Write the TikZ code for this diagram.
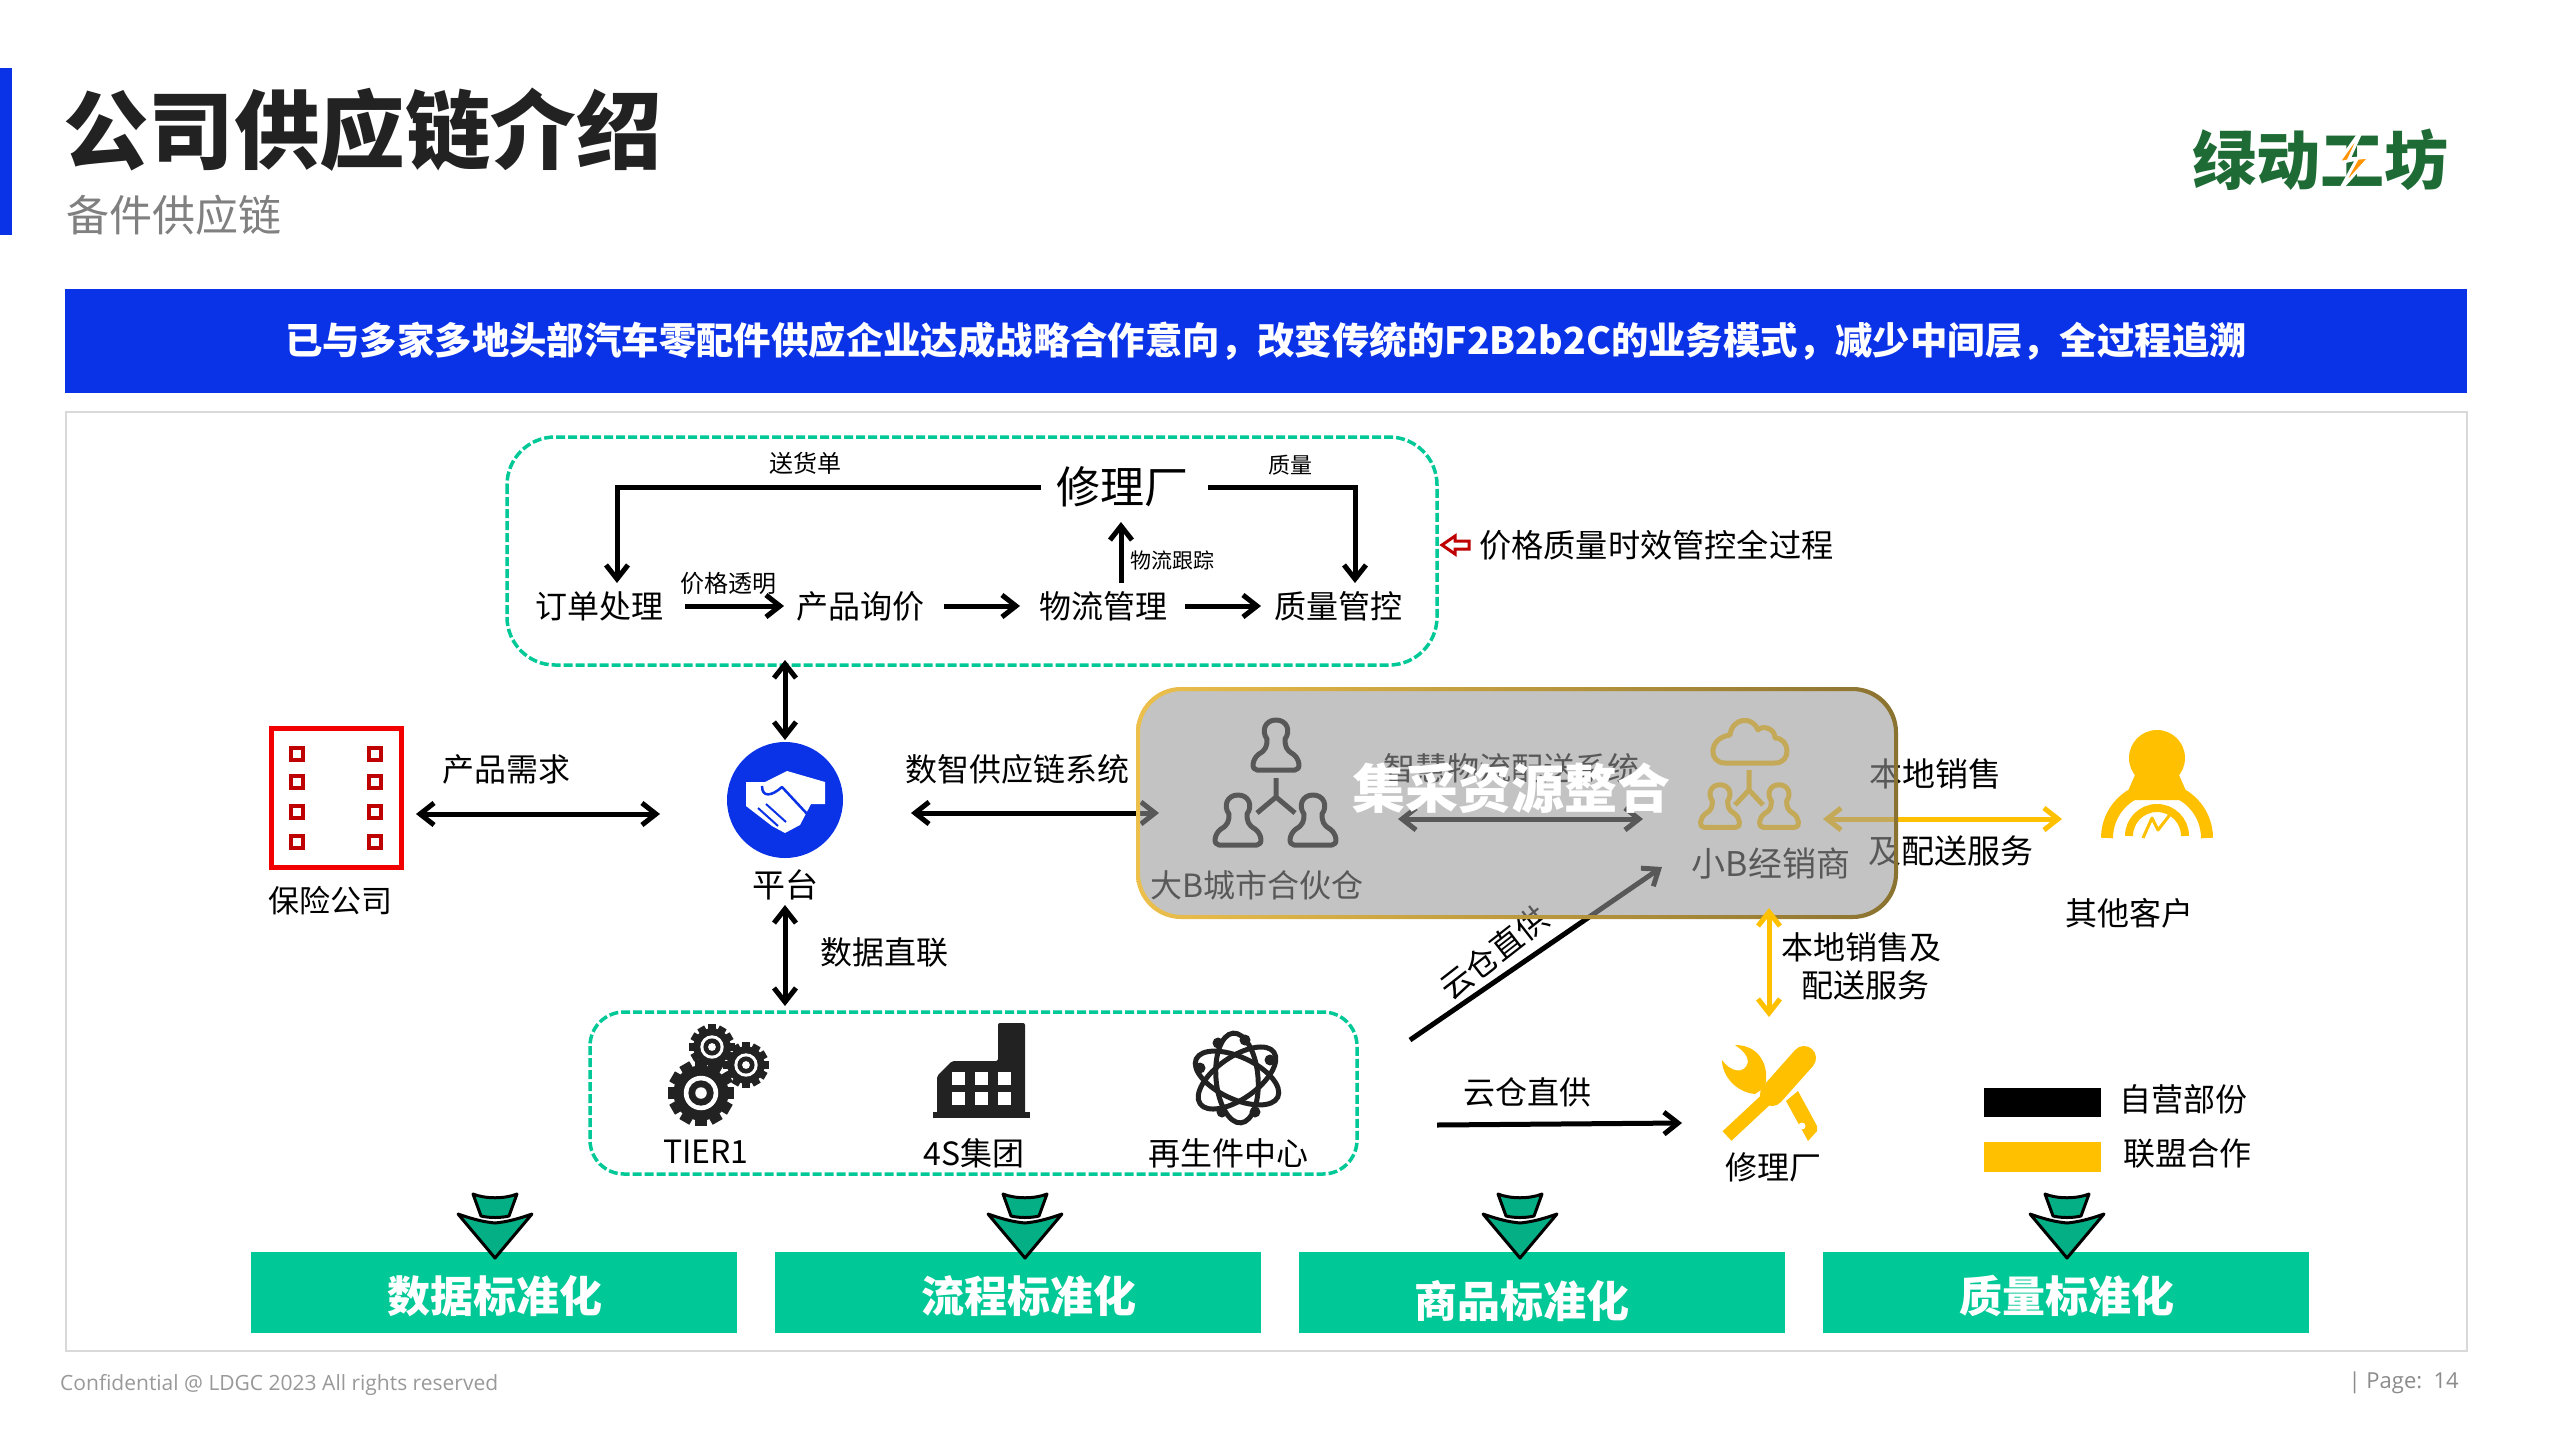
\documentclass[tikz,border=0pt]{standalone}
\usepackage{fontspec}
\setmainfont{Noto Sans CJK SC}
\newfontfamily\latinf{Open Sans}
\usetikzlibrary{arrows.meta}
\definecolor{brandblue}{HTML}{0A32E6}
\definecolor{teal}{HTML}{00C896}
\definecolor{gold}{HTML}{FFC000}
\definecolor{ink}{HTML}{222222}
\definecolor{logogreen}{HTML}{1E6B35}
\definecolor{ringgold}{HTML}{EDC04C}
\definecolor{ringdark}{HTML}{8A7230}
\tikzset{
  lab/.style={font=\fontsize{#1}{#1}\selectfont,inner sep=0pt,text=black},
  bl/.style={font=\bfseries\fontsize{#1}{#1}\selectfont,inner sep=0pt,text=white},
  dashbox/.style={draw=teal,line width=3.5pt,dash pattern=on 9pt off 3pt},
  oneway/.style={line width=5pt,-{Straight Barb[length=14pt,width=22pt,line width=5pt]}},
  twoway/.style={line width=5pt,{Straight Barb[length=14pt,width=22pt,line width=5pt]}-{Straight Barb[length=14pt,width=22pt,line width=5pt]}},
  greenbox/.style={fill=teal,draw=none,minimum width=486pt,minimum height=81pt,inner sep=0pt},
  pics/personicon/.style={code={
    \draw[pic actions,line width=5pt,line join=round]
      (-19,25) -- (19,25) .. controls (25,25) and (24,14) .. (17,9)
      .. controls (10,5) and (9,1) .. (9,-6)
      .. controls (15,-14) and (11,-25) .. (0,-25)
      .. controls (-11,-25) and (-15,-14) .. (-9,-6)
      .. controls (-9,1) and (-10,5) .. (-17,9)
      .. controls (-24,14) and (-25,25) .. (-19,25) -- cycle;
  }},
  pics/gearicon/.style={code={
    \foreach \a in {0,30,...,330}{\fill[ink,rotate=\a] (-5,-29) rectangle (5,-21);}
    \fill[ink] (0,0) circle (24);
    \fill[white] (0,0) circle (15);
    \fill[ink] (0,0) circle (11);
    \fill[white] (0,0) circle (5);
  }},
  pics/downmark/.style={code={
    \draw[fill=teal!85!ink,line width=3pt,line join=round,draw=black]
      (-22,-32) -- (-14,-10) .. controls (-6,-8) and (6,-8) .. (14,-10) -- (22,-32)
      .. controls (10,-27) and (-10,-27) .. (-22,-32) -- cycle;
    \draw[fill=teal!85!ink,line width=3pt,line join=round,draw=black]
      (-37,-12) .. controls (-20,-6) and (-10,-4) .. (0,-3) .. controls (10,-4) and (20,-6) .. (37,-12)
      -- (0,32) -- cycle;
  }}
}
\begin{document}
\begin{tikzpicture}[x=1pt,y=-1pt]
\useasboundingbox (0,0) rectangle (2560,1440);
\fill[white] (0,0) rectangle (2560,1440);

% header
\fill[brandblue] (0,68) rectangle (12,235);
\node[bl=85.5,text=ink,anchor=west] (title) at (63,130) {公司供应链介绍};
\node[lab=43,text=gray,anchor=west] (subtitle) at (66,215) {备件供应链};

% logo
\node[font=\bfseries\fontsize{64}{64}\selectfont,text=logogreen,inner sep=0pt] (logo) at (2320,160) {绿动工坊};
\draw[draw=white,line width=3pt,fill=orange!85!yellow] (2363,128) -- (2338,163) -- (2357,159) -- (2340,190) -- (2370,157) -- (2349,159) -- cycle;

% banner and panel
\fill[brandblue] (65,289) rectangle (2467,393);
\node[bl=37.4] (banner) at (1266,341) {已与多家多地头部汽车零配件供应企业达成战略合作意向，改变传统的F2B2b2C的业务模式，减少中间层，全过程追溯};
\draw[draw=black!15,line width=1.5pt] (66,412) rectangle (2467,1351);

% top group
\draw[dashbox,rounded corners=48pt] (507,437) rectangle (1437,665);
\node[lab=44] (shop) at (1122,487) {修理厂};
\node[lab=32] (order) at (599,606) {订单处理};
\node[lab=32] (query) at (860,606) {产品询价};
\node[lab=32] (logi) at (1103,606) {物流管理};
\node[lab=32] (qc) at (1338,606) {质量管控};
\node[lab=24] (l1) at (805,463) {送货单};
\node[lab=22] (l2) at (1290,465) {质量};
\node[lab=24] (l3) at (728,583) {价格透明};
\node[lab=21] (l4) at (1172,560) {物流跟踪};
\coordinate (oa) at (617,583); \coordinate (qa) at (1355,583);
\coordinate (la) at (1121,583); \coordinate (sa) at (1121,522);
\draw[oneway] (shop.west)++(-15,0) -| (oa);
\draw[oneway] (shop.east)++(20,0) -| (qa);
\draw[oneway] (la) -- (sa);
\draw[oneway] (685,606) coordinate (o1) -- (784,606) coordinate (q1);
\draw[oneway] (944,606) coordinate (q2) -- (1020,606) coordinate (l5);
\draw[oneway] (1185,606) coordinate (l6) -- (1261,606) coordinate (q3);

\draw[draw=red!75!black,line width=3pt,fill=white] (1442,545) -- (1455,536) -- (1455,541) -- (1469,541) -- (1469,549) -- (1455,549) -- (1455,554) -- cycle;
\node[lab=32.2,anchor=west] (ctrl) at (1479,545) {价格质量时效管控全过程};

% insurance
\draw[draw=red!95!black,line width=5pt] (271,728) rectangle (401,867);
\foreach \xx in {297,375}{\foreach \yy in {754,782,812,842}{
  \draw[draw=red!75!black,line width=3.5pt,fill=white] (\xx-6,\yy-6) rectangle (\xx+6,\yy+6);}}
\coordinate (insr) at (416,814);
\node[lab=31] (insl) at (330,901) {保险公司};
\node[lab=32] (need) at (506,769) {产品需求};

% platform
\node[circle,fill=brandblue,minimum size=116pt,inner sep=0pt] (plat) at (785,800) {};
\fill[white] (746,782) -- (765,782) -- (787,771) -- (825,782) -- (825,804) -- (811,804) -- (800,825) -- (785,833) -- (772,826) -- (746,806) -- cycle;
\draw[draw=brandblue,line width=2.5pt,line join=round] (762,786) .. controls (762,798) and (772,796) .. (782,787) -- (809,816);
\draw[draw=brandblue,line width=2pt] (758,808) -- (778,826) (766,804) -- (786,822);
\node[lab=33] (platl) at (785,885) {平台};
\coordinate (pl) at (660,814);
\draw[twoway] (insr) -- (pl);
\coordinate (topb) at (785,660); \coordinate (platt) at (785,740);
\draw[twoway] (topb) -- (platt);
\coordinate (platb) at (785,905); \coordinate (botb) at (785,1006);
\draw[twoway] (platb) -- (botb);
\node[lab=32] (ddl) at (884,952) {数据直联};
\node[lab=32] (scs) at (1017,769) {数智供应链系统};
\coordinate (pr) at (911,813); \coordinate (bbl) at (1159,813);
\draw[twoway] (pr) -- (bbl);

% under the overlay
\pic[draw=black] at (1276,745) {personicon};
\pic[draw=black] at (1238,820) {personicon};
\pic[draw=black] at (1313,820) {personicon};
\draw[line width=5pt,line join=round] (1276,778) -- (1276,797) -- (1257,813) (1276,797) -- (1295,813);
\draw[draw=gold,line width=5pt,line join=round] (1725,763) -- (1775,763) .. controls (1792,763) and (1790,738) .. (1775,738) .. controls (1775,728) and (1762,725) .. (1758,730) .. controls (1752,715) and (1732,718) .. (1730,735) .. controls (1708,738) and (1708,763) .. (1725,763) -- cycle;
\pic[draw=gold,scale=.85] at (1720,806) {personicon};
\pic[draw=gold,scale=.85] at (1779,806) {personicon};
\draw[draw=gold,line width=5pt,line join=round] (1749,770) -- (1749,790) -- (1735,805) (1749,790) -- (1763,805);
\node[lab=32] (bigb) at (1257,885) {大B城市合伙仓};
\node[lab=34] (smallb) at (1771,864) {小B经销商};
\node[lab=32] (wise) at (1511,768) {智慧物流配送系统};
\coordinate (wl) at (1398,819); \coordinate (wr) at (1643,819);
\draw[twoway] (wl) -- (wr);
\coordinate (gl) at (1823,819); \coordinate (gr) at (2062,819);
\draw[twoway,draw=gold] (gl) -- (gr);
\node[lab=33] (s1) at (1935,774) {本地销售};
\node[lab=33] (s2) at (1951,851) {及配送服务};
\coordinate (dia1) at (1410,1040); \coordinate (dia2) at (1662,867);
\draw[oneway] (dia1) -- (dia2);
\node[lab=32,rotate=38] (dial) at (1494,953) {云仓直供};

% overlay
\fill[fill=black!40,fill opacity=.58,rounded corners=45pt] (1138,689) rectangle (1896,917);
\shade[even odd rule,left color=ringgold,middle color=ringgold,right color=ringdark,rounded corners=45pt] (1136,687) rectangle (1898,919) [rounded corners=42pt] (1140,691) rectangle (1894,915);
\node[bl=53] (merge) at (1511,788) {集采资源整合};

% customer
\fill[gold] (2157,758) circle (28);
\fill[gold] (2135,775) -- (2179,775) -- (2190,800) -- (2124,800) -- cycle;
\draw[draw=gold,line width=12pt] (2107,838) arc (180:360:50);
\draw[draw=gold,line width=8pt] (2129,836) arc (180:360:28);
\draw[draw=gold,line width=3pt,line join=round] (2143,838) -- (2152,818) -- (2158,830) -- (2172,812);
\node[lab=32] (othc) at (2129,913) {其他客户};

% bottom group
\draw[dashbox,rounded corners=34pt] (590,1012) rectangle (1357,1174);
\pic[scale=1.15] at (701,1093) {gearicon};
\pic[scale=.78] at (712,1047) {gearicon};
\pic[scale=.78] at (746,1065) {gearicon};
\fill[ink] (933,1112) rectangle (1030,1118);
\fill[ink,rounded corners=2pt] (937,1114) -- (937,1076) -- (952,1061) -- (998,1061) -- (998,1023) -- (1025,1023) -- (1025,1114) -- cycle;
\foreach \xx in {952,975,998}{\foreach \yy in {1072,1092}{\fill[white] (\xx,\yy) rectangle (\xx+13,\yy+13);}}
\foreach \r in {35,95,155}{\draw[draw=ink,line width=5pt,rotate around={\r:(1237,1078)}] (1237,1078) ellipse (45 and 21);}
\foreach \bx/\by in {1200/1068,1270/1060,1218/1043,1255/1112,1245/1040,1222/1112}{\fill[ink] (\bx,\by) circle (5.5);}
\node[lab=32] (t1) at (706,1152) {TIER1};
\node[lab=32] (fs) at (974,1153) {4S集团};
\node[lab=32] (rc) at (1228,1153) {再生件中心};

% right lower
\coordinate (gv1) at (1769,908); \coordinate (gv2) at (1769,1017);
\draw[twoway,draw=gold] (gv1) -- (gv2);
\node[lab=32] (s3) at (1861,947) {本地销售及};
\node[lab=32] (s4) at (1865,985) {配送服务};
\node[lab=32] (direct) at (1527,1092) {云仓直供};
\coordinate (dh1) at (1437,1125); \coordinate (dh2) at (1682,1123);
\draw[oneway] (dh1) -- (dh2);
\fill[gold] (1735,1045) .. controls (1765,1045) and (1770,1075) .. (1764,1088) -- (1755,1094) .. controls (1735,1092) and (1722,1075) .. (1722,1060) .. controls (1730,1072) and (1745,1075) .. (1748,1062) .. controls (1748,1055) and (1742,1050) .. cycle;
\draw[draw=gold,line width=24pt,line cap=round] (1804,1058) -- (1772,1094);
\draw[draw=gold,line width=13pt] (1772,1094) -- (1727,1136);
\fill[gold] (1786,1101) -- (1798,1091) -- (1817,1126) -- (1817,1131) -- (1808,1141) -- cycle;
\fill[white] (1802,1126) circle (3.5);
\node[lab=32] (shop2) at (1773,1167) {修理厂};

% legend
\fill[black] (1984,1088) rectangle (2101,1117);
\fill[gold] (1984,1142) rectangle (2101,1172);
\node[lab=32] (lg1) at (2183,1099) {自营部份};
\node[lab=32] (lg2) at (2187,1153) {联盟合作};

% standard boxes
\node[greenbox] (std1) at (494,1292.5) {}; \node[bl=43] (st1) at (495,1296) {数据标准化};
\node[greenbox] (std2) at (1018,1292.5) {}; \node[bl=43] (st2) at (1029,1296) {流程标准化};
\node[greenbox] (std3) at (1542,1292.5) {}; \node[bl=43] (st3) at (1522,1301) {商品标准化};
\node[greenbox] (std4) at (2066,1292.5) {}; \node[bl=43] (st4) at (2067,1296) {质量标准化};
\pic at (495,1226) {downmark};
\pic at (1025,1226) {downmark};
\pic at (1520,1226) {downmark};
\pic at (2067,1226) {downmark};

% footer
\node[lab=21,text=black!40,anchor=west,font=\latinf\fontsize{21}{21}\selectfont] (foot) at (60,1385) {Confidential @ LDGC 2023 All rights reserved};
\node[lab=22,text=black!45,anchor=east,font=\latinf\fontsize{22}{22}\selectfont] (page) at (2459,1383) {| Page:\ \ 14};
\end{tikzpicture}
\end{document}
